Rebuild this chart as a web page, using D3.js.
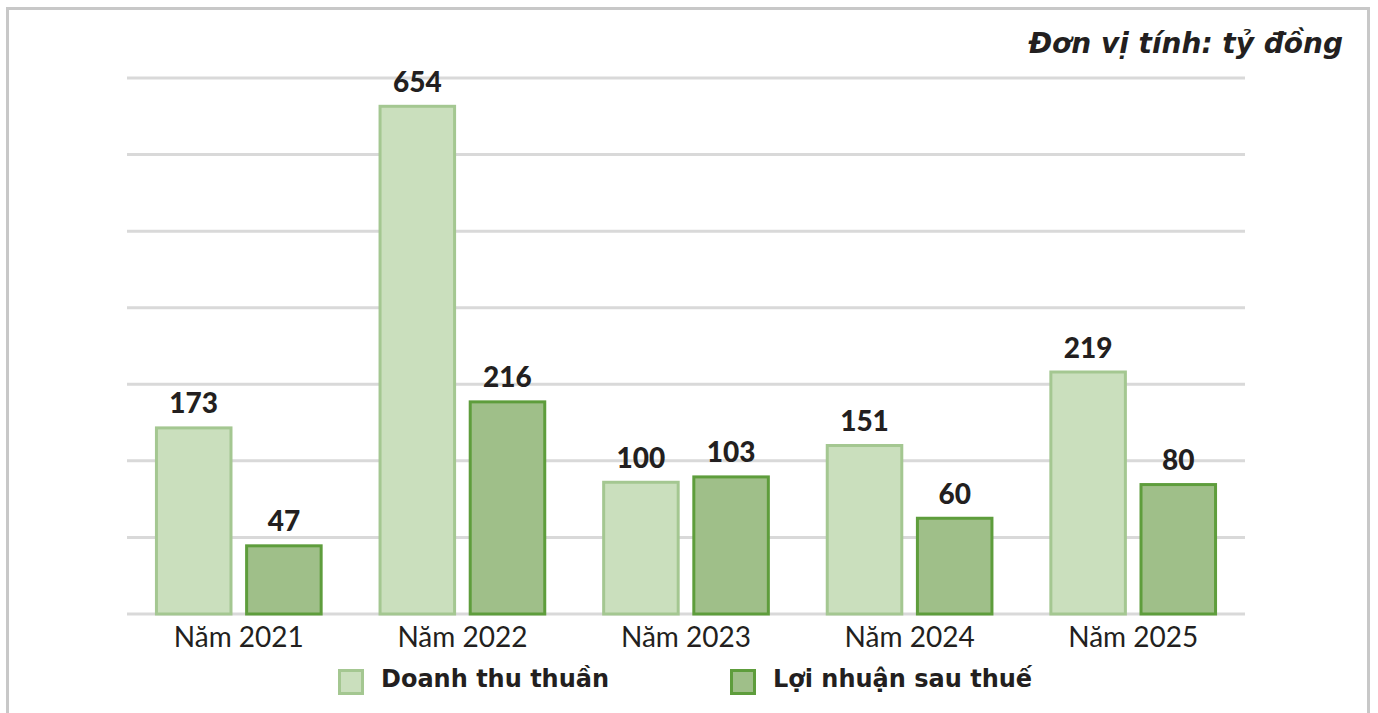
<!DOCTYPE html>
<html lang="vi">
<head>
<meta charset="utf-8">
<script src="https://cdn.jsdelivr.net/npm/d3@7"></script>
<style>
  html, body { margin: 0; padding: 0; background: #fff; }
  svg { display: block; font-family: Lato, "Open Sans", sans-serif; }
</style>
</head>
<body>
<svg id="chart"></svg>
<script>
// Dữ liệu biểu đồ
const years = ["Năm 2021", "Năm 2022", "Năm 2023", "Năm 2024", "Năm 2025"];
const seriesNames = ["Doanh thu thuần", "Lợi nhuận sau thuế"];

// nhãn số in trên cột (tỷ đồng)
const doanhThuNhan = [173, 654, 100, 151, 219];
const loiNhuanNhan = [47, 216, 103, 60, 80];

// chiều cao cột như trên hình (đơn vị của lưới, 100 / vạch)
const doanhThuCot = [245, 665, 174, 222, 318];
const loiNhuanCot = [91, 279, 181, 127, 171];

const gridTicks = [0, 100, 200, 300, 400, 500, 600, 700];

const width = 1378;
const height = 713;

const svg = d3.select("#chart")
    .attr("width", width)
    .attr("height", height);

// khung viền xám
svg.append("path")
    .attr("d", "M7.5,713 L7.5,8.5 L1368.5,8.5 L1368.5,713")
    .attr("fill", "none")
    .attr("stroke", "#c8c8c8")
    .attr("stroke-width", 3);

// Thang đo
const y = d3.scaleLinear().domain([0, 700]).range([614, 78]);

const x0 = d3.scaleBand()
    .domain(years)
    .range([127, 1245])
    .paddingInner(0.25)
    .paddingOuter(0.125);

const x1 = d3.scaleBand()
    .domain([0, 1])
    .range([0, x0.bandwidth()])
    .paddingInner(0.14)
    .paddingOuter(0);

const colors = [
    { fill: "#cadfbd", stroke: "#a4c791" },
    { fill: "#9fbf89", stroke: "#5e9d3c" }
];

// lưới ngang
svg.append("g")
    .selectAll("line")
    .data(gridTicks)
    .enter().append("line")
    .attr("x1", 127)
    .attr("x2", 1245)
    .attr("y1", d => y(d))
    .attr("y2", d => y(d))
    .attr("stroke", "#d9d9d9")
    .attr("stroke-width", 3);

// dữ liệu theo nhóm
const rows = years.map((yr, i) => ({
    year: yr,
    bars: [
        { s: 0, h: doanhThuCot[i], label: doanhThuNhan[i] },
        { s: 1, h: loiNhuanCot[i], label: loiNhuanNhan[i] }
    ]
}));

const groups = svg.append("g")
    .selectAll("g")
    .data(rows)
    .enter().append("g")
    .attr("transform", d => `translate(${x0(d.year)},0)`);

groups.selectAll("rect")
    .data(d => d.bars)
    .enter().append("rect")
    .attr("x", d => x1(d.s) + 1.5)
    .attr("width", x1.bandwidth() - 3)
    .attr("y", d => y(d.h) + 1.5)
    .attr("height", d => y(0) - y(d.h) - 1.5)
    .attr("fill", d => colors[d.s].fill)
    .attr("stroke", d => colors[d.s].stroke)
    .attr("stroke-width", 3);

// nhãn giá trị
groups.selectAll("text.val")
    .data(d => d.bars)
    .enter().append("text")
    .attr("class", "val")
    .attr("x", d => x1(d.s) + x1.bandwidth() / 2)
    .attr("y", d => y(d.h) - 13)
    .attr("text-anchor", "middle")
    .attr("font-size", 28)
    .attr("font-weight", 900)
    .attr("fill", "#231f20")
    .text(d => d.label);

// trục x
const xAxis = svg.append("g")
    .attr("transform", "translate(0,614)")
    .call(d3.axisBottom(x0).tickSize(0).tickPadding(0));
xAxis.select(".domain").remove();
xAxis.selectAll("text")
    .attr("dy", null)
    .attr("y", 33)
    .attr("font-family", "Lato, sans-serif")
    .attr("font-size", 28)
    .attr("fill", "#231f20");

// đơn vị
svg.append("text")
    .attr("x", 1343)
    .attr("y", 53)
    .attr("text-anchor", "end")
    .attr("font-family", "'DejaVu Sans', sans-serif")
    .attr("font-size", 28)
    .attr("font-weight", "bold")
    .attr("font-style", "italic")
    .attr("fill", "#231f20")
    .text("Đơn vị tính: tỷ đồng");

// chú thích
const legendX = [338, 730];
const legend = svg.append("g")
    .selectAll("g")
    .data(seriesNames)
    .enter().append("g")
    .attr("transform", (d, i) => `translate(${legendX[i]},669)`);

legend.append("rect")
    .attr("x", 1.5)
    .attr("y", 1.5)
    .attr("width", 23)
    .attr("height", 23)
    .attr("fill", (d, i) => colors[i].fill)
    .attr("stroke", (d, i) => colors[i].stroke)
    .attr("stroke-width", 3);

legend.append("text")
    .attr("x", 43)
    .attr("y", 18)
    .attr("font-family", "'DejaVu Sans', sans-serif")
    .attr("font-size", 24)
    .attr("font-weight", "bold")
    .attr("fill", "#231f20")
    .text(d => d);
</script>
</body>
</html>
